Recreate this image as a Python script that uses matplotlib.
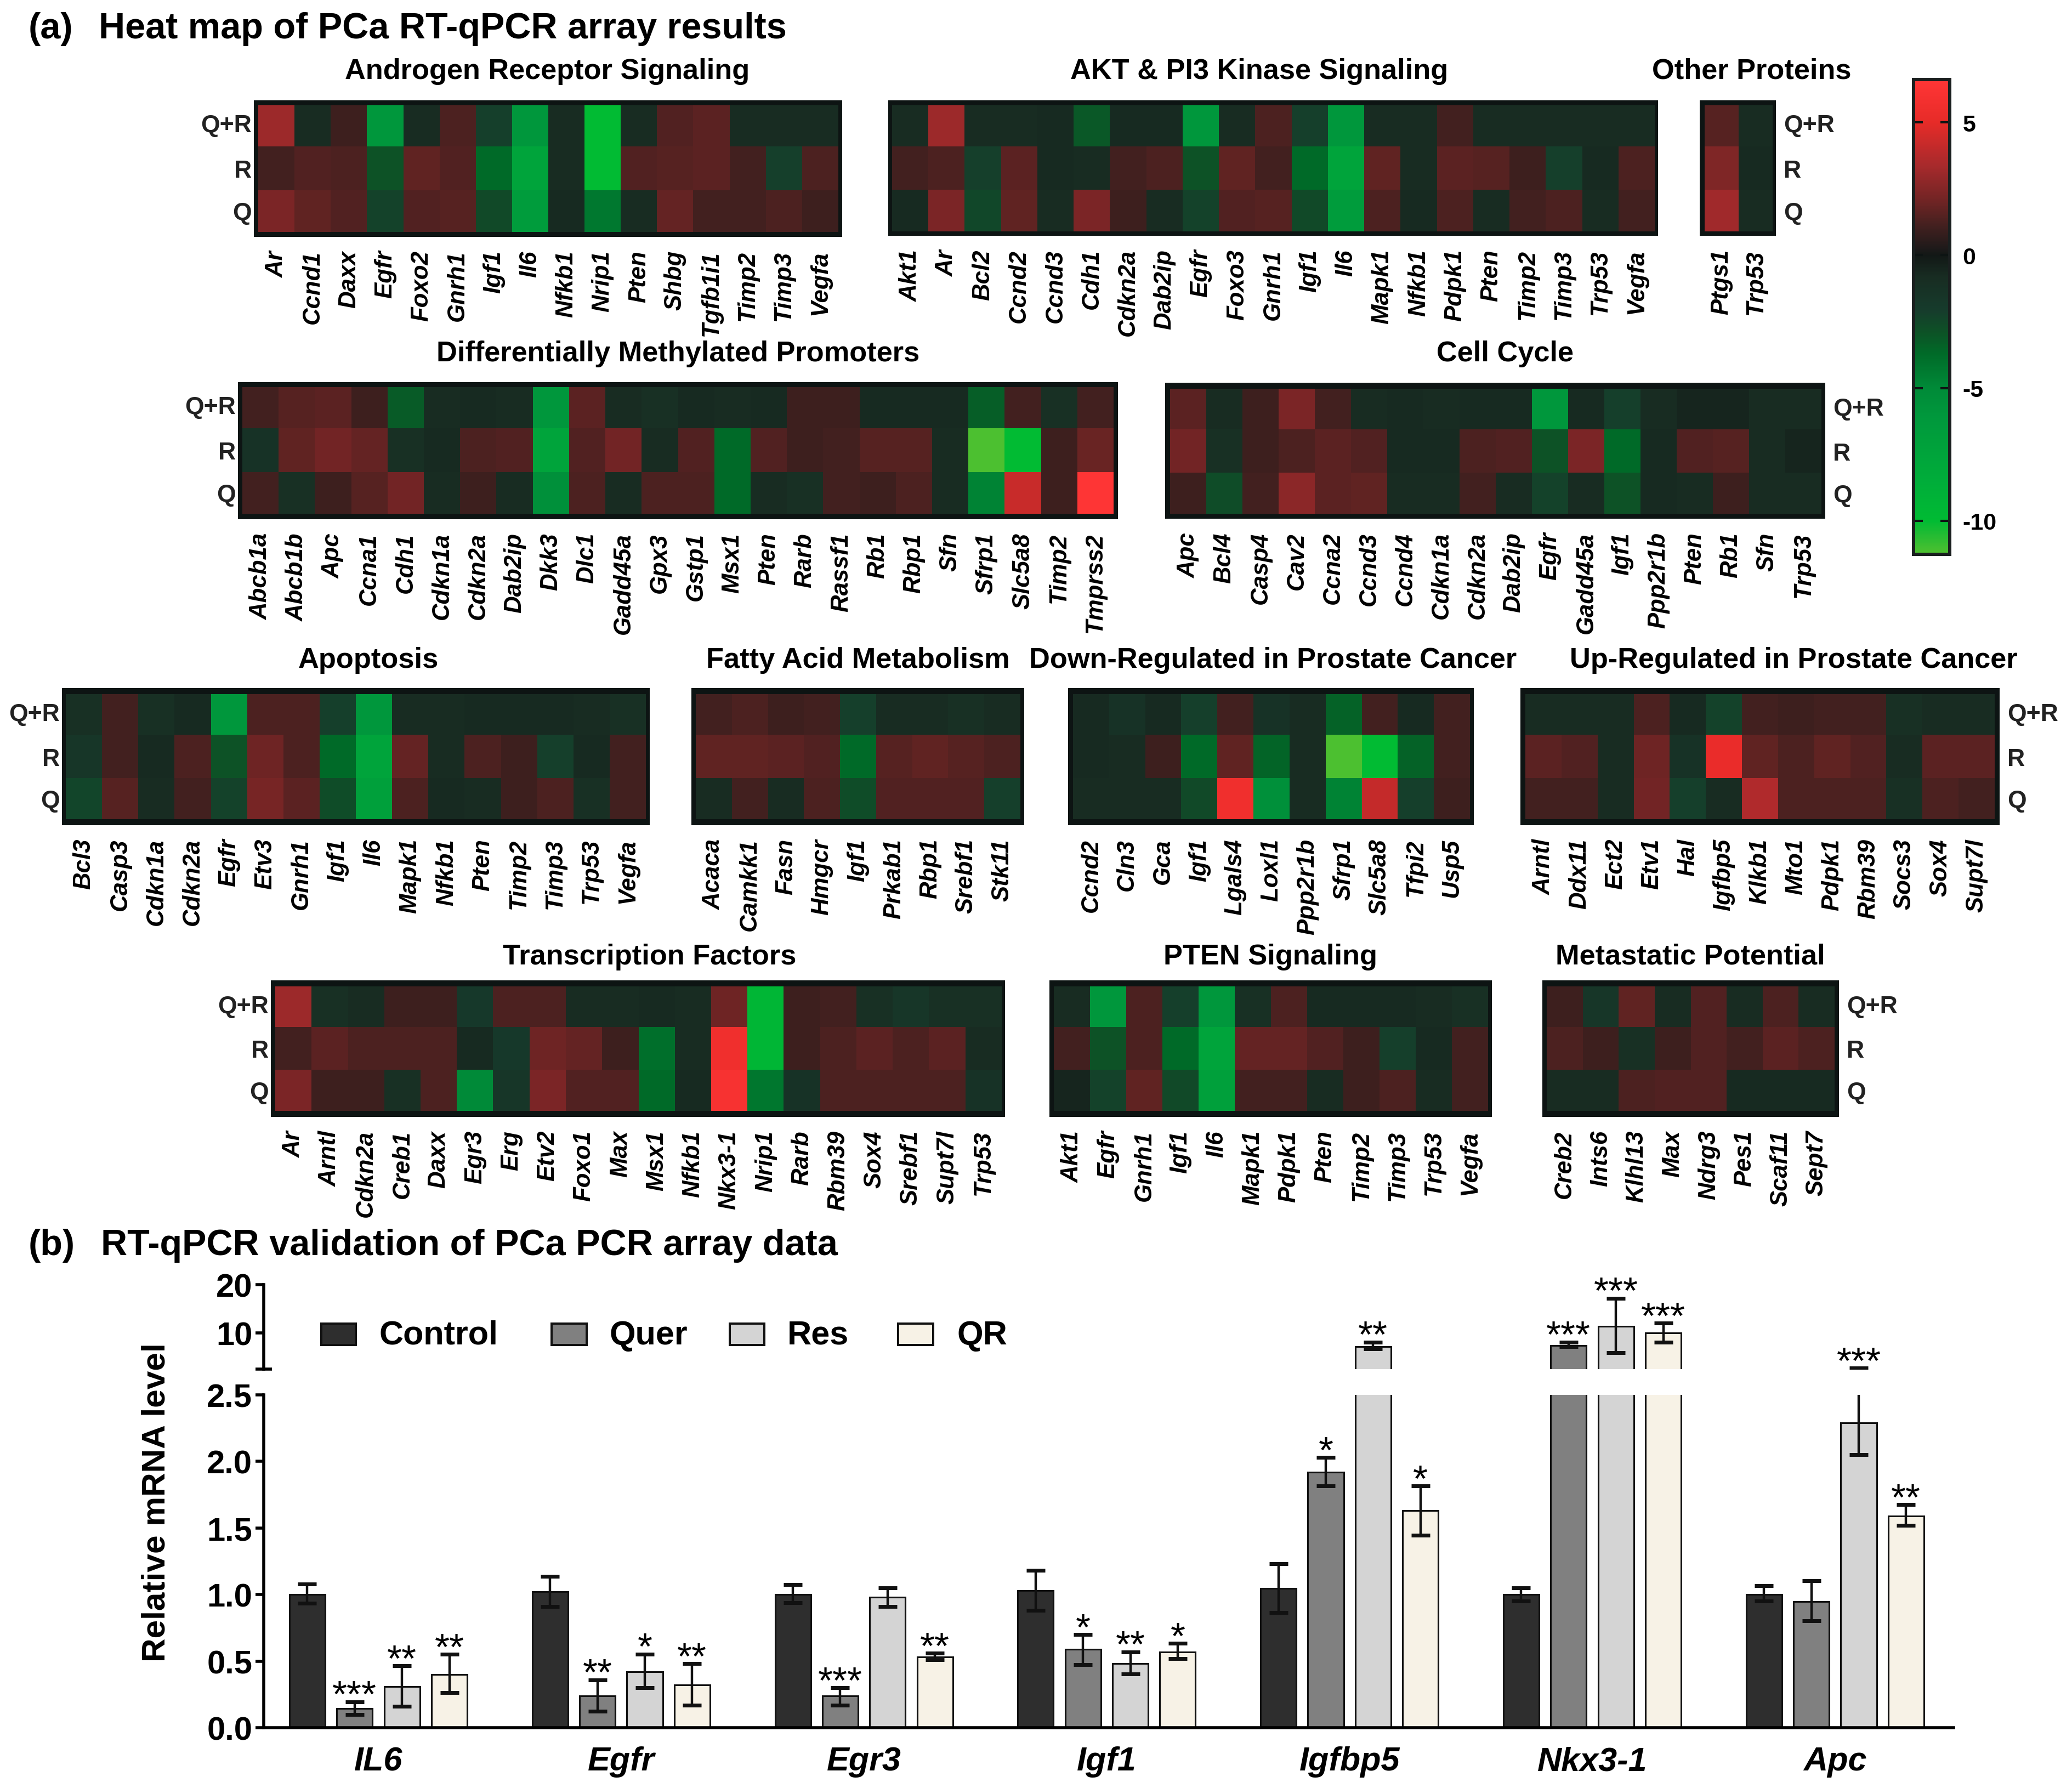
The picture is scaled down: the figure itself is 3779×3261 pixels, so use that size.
import numpy as np
import matplotlib
matplotlib.use('Agg')
import matplotlib.pyplot as plt
from matplotlib.colors import LinearSegmentedColormap, Normalize
from matplotlib.cm import ScalarMappable
from matplotlib.patches import Rectangle

plt.rcParams['font.family'] = ['Liberation Sans', 'DejaVu Sans']
plt.rcParams['axes.unicode_minus'] = False

W, H = 3779, 3262
rows = ['Q+R', 'R', 'Q']

# heat map values, rows are Q+R, R, Q
androgen_genes = ['Ar', 'Ccnd1', 'Daxx', 'Egfr', 'Foxo2', 'Gnrh1', 'Igf1', 'Il6', 'Nfkb1', 'Nrip1', 'Pten', 'Shbg', 'Tgfb1i1', 'Timp2', 'Timp3', 'Vegfa']
androgen_vals = [[3.1, -.8, 1.0, -6, -.8, 1.3, -2.2, -6, -.8, -10, -.8, 1.4, 1.6, -.8, -.8, -.8],
                 [1.1, 1.4, 1.3, -2.9, 1.7, 1.4, -3.7, -7.5, -.8, -10, 1.4, 1.5, 1.6, 1.1, -2.2, 1.3],
                 [2.3, 1.7, 1.4, -2.3, 1.4, 1.5, -2.6, -6.5, -.7, -4.3, -.8, 1.8, 1.1, 1.1, 1.3, 1.0]]

akt_genes = ['Akt1', 'Ar', 'Bcl2', 'Ccnd2', 'Ccnd3', 'Cdh1', 'Cdkn2a', 'Dab2ip', 'Egfr', 'Foxo3', 'Gnrh1', 'Igf1', 'Il6', 'Mapk1', 'Nfkb1', 'Pdpk1', 'Pten', 'Timp2', 'Timp3', 'Trp53', 'Vegfa']
akt_vals = [[-.8, 3.1, -.8, -.8, -.7, -3.1, -.7, -.7, -6, -.8, 1.3, -2.2, -6, -.8, -.8, 1.1, -.8, -.8, -.8, -.8, -.8],
            [1.1, 1.3, -2.2, 1.6, -.7, -.8, 1.1, 1.3, -2.9, 1.7, 1.1, -3.7, -7.5, 1.7, -.8, 1.6, 1.5, 1.0, -2.2, -.7, 1.3],
            [-.7, 2.3, -2.5, 1.7, -.8, 2.3, 1.0, -.8, -2.3, 1.4, 1.5, -2.6, -6.5, 1.3, -.7, 1.3, -.8, 1.1, 1.3, -.8, 1.1]]

other_genes = ['Ptgs1', 'Trp53']
other_vals = [[1.5, -.8], [2.4, -.7], [3.2, -.8]]

dmp_genes = ['Abcb1a', 'Abcb1b', 'Apc', 'Ccna1', 'Cdh1', 'Cdkn1a', 'Cdkn2a', 'Dab2ip', 'Dkk3', 'Dlc1', 'Gadd45a', 'Gpx3', 'Gstp1', 'Msx1', 'Pten', 'Rarb', 'Rassf1', 'Rb1', 'Rbp1', 'Sfn', 'Sfrp1', 'Slc5a8', 'Timp2', 'Tmprss2']
dmp_vals = [[1.1, 1.5, 1.6, 1.0, -3.2, -.8, -.7, -.8, -6, 1.6, -.8, -1.1, -.7, -.8, -.7, 1.0, 1.0, -.7, -.7, -.7, -3.3, 1.1, -1.1, 1.1],
            [-1.3, 1.7, 2.1, 1.8, -1.1, -.7, 1.3, 1.4, -7.5, 1.4, 2.1, -.8, 1.4, -3.7, 1.4, 1.0, 1.1, 1.5, 1.5, -.8, -11.2, -10, 1.0, 1.9],
            [1.1, -1.1, 1.0, 1.5, 2.1, -.8, 1.0, -.8, -5.5, 1.3, -.8, 1.3, 1.3, -3.7, -.8, -1.1, 1.1, 1.0, 1.3, -.8, -4.7, 4.2, 1.0, 6.5]]

cycle_genes = ['Apc', 'Bcl4', 'Casp4', 'Cav2', 'Ccna2', 'Ccnd3', 'Ccnd4', 'Cdkn1a', 'Cdkn2a', 'Dab2ip', 'Egfr', 'Gadd45a', 'Igf1', 'Ppp2r1b', 'Pten', 'Rb1', 'Sfn', 'Trp53']
cycle_vals = [[1.6, -.8, 1.0, 2.3, 1.1, -.8, -.7, -.8, -.7, -.7, -6, -.7, -2.2, -.8, -.5, -.5, -.8, -.8],
              [2.1, -1.1, 1.0, 1.3, 1.6, 1.4, -.7, -.7, 1.3, 1.4, -2.9, 2.3, -3.7, -.7, 1.4, 1.5, -.8, -.5],
              [1.0, -2.7, 1.1, 2.7, 1.6, 1.7, -.8, -.8, 1.1, -.8, -2.3, -.8, -2.9, -.7, -.8, 1.0, -.8, -.8]]

apop_genes = ['Bcl3', 'Casp3', 'Cdkn1a', 'Cdkn2a', 'Egfr', 'Etv3', 'Gnrh1', 'Igf1', 'Il6', 'Mapk1', 'Nfkb1', 'Pten', 'Timp2', 'Timp3', 'Trp53', 'Vegfa']
apop_vals = [[-1.1, 1.1, -1.1, -.7, -6, 1.3, 1.3, -2.2, -6, -.8, -.8, -.7, -.7, -.7, -.8, -1.1],
             [-1.6, 1.1, -.7, 1.3, -2.9, 2.0, 1.3, -3.7, -7.5, 1.8, -.8, 1.3, 1.0, -2.2, -.7, 1.1],
             [-2.4, 1.5, -.8, 1.1, -2.3, 2.2, 1.6, -2.7, -7, 1.3, -.7, -.8, 1.0, 1.3, -1.1, 1.1]]

fatty_genes = ['Acaca', 'Camkk1', 'Fasn', 'Hmgcr', 'Igf1', 'Prkab1', 'Rbp1', 'Srebf1', 'Stk11']
fatty_vals = [[1.1, 1.3, 1.0, 1.1, -2.2, -.8, -.8, -1.1, -.8],
              [1.7, 1.7, 1.6, 1.4, -3.7, 1.5, 1.7, 1.5, 1.3],
              [-.8, 1.1, -.8, 1.3, -2.7, 1.4, 1.4, 1.4, -2.2]]

down_genes = ['Ccnd2', 'Cln3', 'Gca', 'Igf1', 'Lgals4', 'Loxl1', 'Ppp2r1b', 'Sfrp1', 'Slc5a8', 'Tfpi2', 'Usp5']
down_vals = [[-.7, -1.3, -.7, -2.2, 1.1, -1.3, -.8, -3.4, 1.1, -.7, 1.1],
             [-.7, -.8, 1.0, -3.7, 1.7, -3.5, -.8, -11.2, -10, -3.4, 1.1],
             [-.8, -.8, -.8, -2.6, 5.6, -5.5, -.8, -4.7, 4.1, -2.2, 1.0]]

up_genes = ['Arntl', 'Ddx11', 'Ect2', 'Etv1', 'Hal', 'Igfbp5', 'Klkb1', 'Mto1', 'Pdpk1', 'Rbm39', 'Socs3', 'Sox4', 'Supt7l']
up_vals = [[-.8, -.8, -.8, 1.3, -.7, -2.3, 1.1, 1.0, 1.1, 1.1, -1.1, -.8, -.8],
           [1.6, 1.4, -.8, 2.0, -1.3, 5.2, 1.7, 1.3, 1.7, 1.4, -.8, 1.6, 1.6],
           [1.1, 1.1, -.8, 2.1, -2.2, -.8, 3.6, 1.3, 1.3, 1.3, -1.1, 1.3, 1.1]]

tf_genes = ['Ar', 'Arntl', 'Cdkn2a', 'Creb1', 'Daxx', 'Egr3', 'Erg', 'Etv2', 'Foxo1', 'Max', 'Msx1', 'Nfkb1', 'Nkx3-1', 'Nrip1', 'Rarb', 'Rbm39', 'Sox4', 'Srebf1', 'Supt7l', 'Trp53']
tf_vals = [[3.1, -1.1, -.8, 1.0, 1.0, -1.8, 1.3, 1.3, -.8, -.8, -.7, -.8, 2.0, -9.5, 1.0, 1.1, -1.1, -1.6, -1.1, -1.1],
           [1.1, 1.6, 1.3, 1.3, 1.3, -.7, -1.8, 2.0, 1.8, 1.0, -3.9, -.8, 5.6, -9.5, 1.0, 1.3, 1.6, 1.3, 1.6, -.8],
           [2.3, 1.0, 1.0, -1.1, 1.3, -5, -1.6, 2.3, 1.4, 1.4, -3.7, -.7, 6, -4.2, -1.3, 1.3, 1.3, 1.3, 1.3, -1.3]]

pten_genes = ['Akt1', 'Egfr', 'Gnrh1', 'Igf1', 'Il6', 'Mapk1', 'Pdpk1', 'Pten', 'Timp2', 'Timp3', 'Trp53', 'Vegfa']
pten_vals = [[-.8, -6, 1.3, -2.2, -6, -1.1, 1.3, -.7, -.7, -.7, -.8, -1.1],
             [1.1, -2.9, 1.3, -3.7, -7.5, 1.8, 1.8, 1.4, 1.0, -2.2, -.7, 1.1],
             [-.5, -2.3, 1.7, -2.6, -7, 1.1, 1.1, -.8, 1.0, 1.3, -.8, 1.1]]

meta_genes = ['Creb2', 'Ints6', 'Klhl13', 'Max', 'Ndrg3', 'Pes1', 'Scaf11', 'Sept7']
meta_vals = [[1.0, -1.6, 1.7, -.8, 1.4, -.8, 1.3, -.8],
             [1.3, 1.0, -1.1, 1.0, 1.4, 1.1, 1.6, 1.3],
             [-.8, -.8, 1.3, 1.4, 1.4, -.7, -.7, -.7]]

# bar chart values
bar_genes = ['IL6', 'Egfr', 'Egr3', 'Igf1', 'Igfbp5', 'Nkx3-1', 'Apc']
treatments = ['Control', 'Quer', 'Res', 'QR']
treat_colors = ['#2e2e2e', '#808080', '#d4d4d4', '#f7f2e6']
means = [[1.0, 1.02, 1.0, 1.03, 1.045, 1.0, 1.0],
         [.145, .24, .24, .59, 1.92, 7.4, .947],
         [.31, .42, .98, .48, 7.2, 11.4, 2.29],
         [.40, .32, .53, .567, 1.63, 10.0, 1.59]]
err_high = [[1.08, 1.137, 1.075, 1.18, 1.23, 1.05, 1.067],
            [.195, .36, .30, .70, 2.03, 8.1, 1.103],
            [.465, .553, 1.05, .57, 8.1, 17.2, 2.7],
            [.55, .48, .56, .634, 1.815, 12.0, 1.676]]
err_low = [[.935, .91, .94, .88, .866, .95, .95],
           [.10, .125, .17, .475, 1.815, 7.2, .805],
           [.16, .30, .91, .405, 6.7, 5.9, 2.05],
           [.265, .17, .51, .517, 1.447, 8.1, 1.52]]
stars = [['', '', '', '', '', '', ''],
         ['***', '**', '***', '*', '*', '***', ''],
         ['**', '*', '', '**', '**', '***', '***'],
         ['**', '**', '**', '*', '*', '***', '**']]

fig = plt.figure(figsize=(W / 100, H / 100), dpi=100)


def px_axes(x0, y0, x1, y1):
    return fig.add_axes([x0 / W, 1 - y1 / H, (x1 - x0) / W, (y1 - y0) / H])


def px_rect(x0, y0, x1, y1, color, zorder=-1):
    fig.add_artist(Rectangle((x0 / W, 1 - y1 / H), (x1 - x0) / W, (y1 - y0) / H,
                             transform=fig.transFigure, fc=color, ec='none', zorder=zorder))


def px_text(x, y, s, **kw):
    fig.text(x / W, 1 - y / H, s, **kw)


cmap_stops = [(-11.2, '#4cc030'), (-10.5, '#20bb33'), (-10, '#00bb33'), (-8.5, '#00ad3a'), (-6.1, '#00983c'),
              (-5, '#008a38'), (-3.7, '#006a28'), (-2.9, '#0d5226'), (-2.1, '#163c2c'), (-.8, '#182c22'),
              (0, '#121816'), (.3, '#201a1a'), (1.1, '#42201f'), (2, '#6e2424'), (3.4, '#a82a2c'),
              (5, '#e62b28'), (6.55, '#ff3535')]
vmin, vmax = -11.2, 6.55
cmap = LinearSegmentedColormap.from_list('rg', [((v - vmin) / (vmax - vmin), c) for v, c in cmap_stops], N=512)
norm = Normalize(vmin, vmax)

FRAME = '#0d1413'
row_edges = [0, .975, 2.015, 3]


def heat(genes, vals, outer, cells, title, title_x, title_y, side=None):
    px_rect(*outer, FRAME)
    ax = px_axes(*cells)
    ax.pcolormesh(np.arange(len(genes) + 1), row_edges, np.array(vals), cmap=cmap, norm=norm)
    ax.set_ylim(3, 0)
    for s in ax.spines.values():
        s.set_visible(False)
    ax.set_xticks(np.arange(len(genes)) + .5)
    ax.set_xticklabels(genes, rotation=90, style='italic', weight='bold', fontsize=31.5, va='top', ha='center')
    ax.tick_params(axis='x', length=0, pad=(outer[3] - cells[3] + 24) * .72)
    ax.set_yticks([.42, 1.5, 2.5])
    if side == 'left':
        ax.set_yticklabels(rows, fontsize=32, weight='bold', color='#222222')
        ax.tick_params(axis='y', length=0, pad=(cells[0] - outer[0] + 4) * .72)
    elif side == 'right':
        ax.yaxis.tick_right()
        ax.set_yticklabels(rows, fontsize=32, weight='bold', color='#222222')
        ax.tick_params(axis='y', length=0, pad=(outer[2] - cells[2] + 14) * .72)
    else:
        ax.set_yticks([])
    px_text(title_x, title_y, title, fontsize=37.7, weight='bold', ha='center', va='baseline')


heat(androgen_genes, androgen_vals, (463, 184, 1536, 433), (471, 193, 1529, 424), 'Androgen Receptor Signaling', 998, 144, 'left')
heat(akt_genes, akt_vals, (1620, 184, 3024, 431), (1627, 193, 3018, 423), 'AKT & PI3 Kinase Signaling', 2297, 144)
heat(other_genes, other_vals, (3100, 184, 3239, 431), (3109, 193, 3233, 423), 'Other Proteins', 3195, 144, 'right')
heat(dmp_genes, dmp_vals, (434, 698, 2039, 948), (442, 707, 2031, 938), 'Differentially Methylated Promoters', 1237, 659, 'left')
heat(cycle_genes, cycle_vals, (2125, 699, 3329, 947), (2134, 710, 3322, 938), 'Cell Cycle', 2745, 659, 'right')
heat(apop_genes, apop_vals, (113, 1256, 1185, 1506), (120, 1267, 1178, 1495), 'Apoptosis', 672, 1218, 'left')
heat(fatty_genes, fatty_vals, (1261, 1256, 1868, 1506), (1269, 1267, 1861, 1495), 'Fatty Acid Metabolism', 1565, 1218)
heat(down_genes, down_vals, (1948, 1256, 2688, 1506), (1957, 1267, 2681, 1495), 'Down-Regulated in Prostate Cancer', 2322, 1218)
heat(up_genes, up_vals, (2773, 1256, 3647, 1506), (2782, 1267, 3638, 1495), 'Up-Regulated in Prostate Cancer', 3271, 1218, 'right')
heat(tf_genes, tf_vals, (494, 1789, 1833, 2038), (502, 1800, 1827, 2027), 'Transcription Factors', 1185, 1759, 'left')
heat(pten_genes, pten_vals, (1914, 1789, 2721, 2038), (1922, 1800, 2714, 2027), 'PTEN Signaling', 2317, 1759)
heat(meta_genes, meta_vals, (2813, 1789, 3354, 2038), (2821, 1800, 3346, 2027), 'Metastatic Potential', 3083, 1759, 'right')

# colour bar
px_rect(3487, 143, 3559, 1015, '#1a1f1f')
cax = px_axes(3493, 149, 3553, 1009)
cb = fig.colorbar(ScalarMappable(norm=norm, cmap=cmap), cax=cax, ticks=[5, 0, -5, -10])
cb.outline.set_visible(False)
cax.tick_params(axis='y', direction='in', left=True, right=True, length=10, width=3, color=FRAME, pad=19, labelsize=31)
for t in cax.get_yticklabels():
    t.set_fontweight('bold')

# headings
px_text(52, 70, '(a)', fontsize=48, weight='bold', va='baseline')
px_text(180, 70, 'Heat map of PCa RT-qPCR array results', fontsize=48, weight='bold', va='baseline')
px_text(52, 2289, '(b)', fontsize=48, weight='bold', va='baseline')
px_text(184, 2289, 'RT-qPCR validation of PCa PCR array data', fontsize=48, weight='bold', va='baseline')

# bar chart, broken y axis
ax_hi = px_axes(481, 2344, 3563, 2498)
ax_lo = px_axes(481, 2545, 3563, 3152)
ax_hi.patch.set_visible(False)
ax_lo.patch.set_visible(False)
x0 = (481 - 690) / 442.8
x1 = (3563 - 690) / 442.8
offs = [-1.5 * .195, -.5 * .195, .5 * .195, 1.5 * .195]
x = np.arange(len(bar_genes))
for i in range(4):
    m = np.array(means[i])
    yerr = [m - np.array(err_low[i]), np.array(err_high[i]) - m]
    for ax in (ax_hi, ax_lo):
        ax.bar(x + offs[i], m, .147, color=treat_colors[i], edgecolor='#111111', linewidth=2.2)
        ax.errorbar(x + offs[i], m, yerr=yerr, fmt='none', ecolor='#111111', elinewidth=3.2, capsize=12, capthick=5)
    for j in range(len(bar_genes)):
        if stars[i][j]:
            ax = ax_hi if err_high[i][j] > 2.5 else ax_lo
            ax.annotate(stars[i][j], (x[j] + offs[i], err_high[i][j]), xytext=(0, -6), textcoords='offset points',
                        ha='center', va='baseline', fontsize=50, annotation_clip=False)

ax_hi.set_xlim(x0, x1)
ax_lo.set_xlim(x0, x1)
ax_hi.set_ylim(2.5, 20)
ax_lo.set_ylim(0, 2.5)
for ax in (ax_hi, ax_lo):
    ax.spines['top'].set_visible(False)
    ax.spines['right'].set_visible(False)
    ax.spines['left'].set_linewidth(4)
    ax.tick_params(axis='y', length=11, width=4, labelsize=43, pad=4)
ax_hi.spines['bottom'].set_visible(False)
ax_hi.set_xticks([])
ax_hi.set_yticks([10, 20])
ax_hi.set_yticklabels(['10', '20'], weight='bold')
ax_hi.set_yticks([2.5], minor=True)
ax_hi.tick_params(axis='y', which='minor', direction='inout', length=22, width=4)
ax_lo.spines['bottom'].set_linewidth(4)
ax_lo.set_yticks([0, .5, 1, 1.5, 2, 2.5])
ax_lo.set_yticklabels(['0.0', '0.5', '1.0', '1.5', '2.0', '2.5'], weight='bold')
ax_lo.set_yticks([2.5], minor=True)
ax_lo.tick_params(axis='y', which='minor', direction='inout', length=22, width=4)
ax_lo.set_xticks(x)
ax_lo.set_xticklabels(bar_genes, style='italic', weight='bold', fontsize=44)
ax_lo.tick_params(axis='x', length=0, pad=24)

px_text(285, 2740, 'Relative mRNA level', fontsize=43.5, weight='bold', rotation=90, ha='center', va='center')

# legend
leg_box = [(584, 651), (1004, 1072), (1329, 1396), (1636, 1704)]
leg_txt = [691, 1112, 1436, 1745]
for i in range(4):
    px_rect(leg_box[i][0], 2413, leg_box[i][1], 2456, '#111111', zorder=3)
    px_rect(leg_box[i][0] + 4, 2417, leg_box[i][1] - 4, 2452, treat_colors[i], zorder=4)
    px_text(leg_txt[i], 2452, treatments[i], fontsize=44, weight='bold', va='baseline')

fig.savefig('out.png', dpi=100)
